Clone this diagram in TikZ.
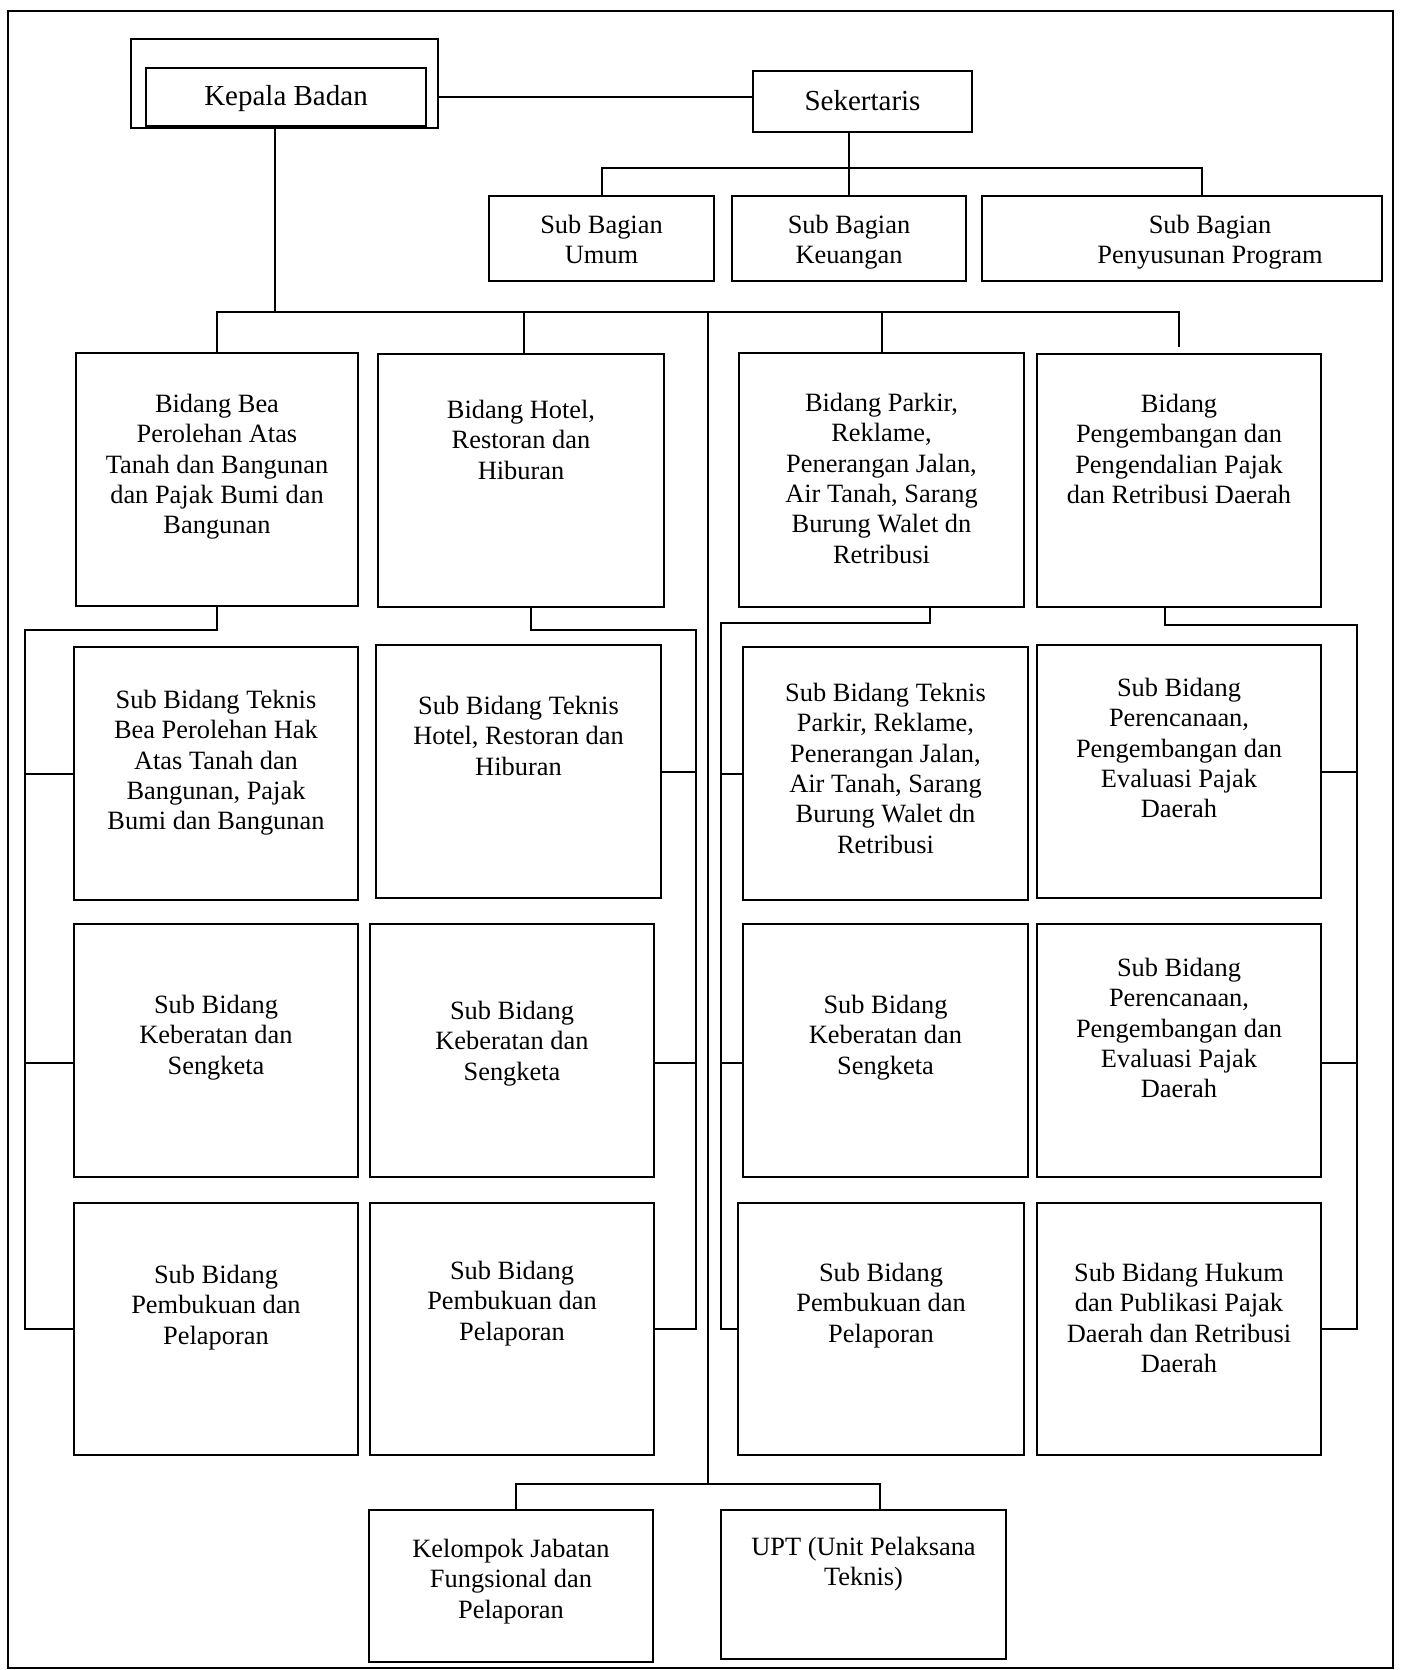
\documentclass[tikz,border=0pt]{standalone}
\usepackage{fontspec}
\setmainfont{Liberation Serif}
\usetikzlibrary{fit,positioning}

\begin{document}
\begin{tikzpicture}[x=0.5pt,y=-0.5pt,line width=1pt,
                    box/.style={draw,inner sep=0pt},
                    txt/.style={anchor=north,align=center,inner sep=0pt,font=\fontsize{13.2}{15.2}\selectfont},
                    head/.style={font=\fontsize{14.5}{16}\selectfont}]

  \useasboundingbox (0,0) rectangle (1401,1670);
  \node[box,fit={(8,11) (1393,1668)}] (0) {};

  \node[box,fit={(131,39) (438,128)}] (1) {};
  \node[box,fit={(146,68) (426,126)},label={[txt,head,yshift=-8.5pt]north:{Kepala Badan}}] (2) {};
  \node[box,fit={(753,71) (972,132)},label={[txt,head,yshift=-9.5pt]north:{Sekertaris}}] (3) {};
  \node[box,fit={(489,196) (714,281)},label={[txt,yshift=-9.5pt]north:{Sub Bagian\\Umum}}] (4) {};
  \node[box,fit={(732,196) (966,281)},label={[txt,yshift=-9.5pt]north:{Sub Bagian\\Keuangan}}] (5) {};
  \node[box,fit={(982,196) (1382,281)},label={[txt,xshift=14pt,yshift=-9.5pt]north:{Sub Bagian\\Penyusunan Program}}] (6) {};

  \node[box,fit={(76,353) (358,606)},label={[txt,yshift=-20.5pt]north:{Bidang Bea\\Perolehan Atas\\Tanah dan Bangunan\\dan Pajak Bumi dan\\Bangunan}}] (7) {};
  \node[box,fit={(378,354) (664,607)},label={[txt,yshift=-23pt]north:{Bidang Hotel,\\Restoran dan\\Hiburan}}] (8) {};
  \node[box,fit={(739,353) (1024,607)},label={[txt,yshift=-20pt]north:{Bidang Parkir,\\Reklame,\\Penerangan Jalan,\\Air Tanah, Sarang\\Burung Walet dn\\Retribusi}}] (9) {};
  \node[box,fit={(1037,354) (1321,607)},label={[txt,yshift=-20pt]north:{Bidang\\Pengembangan dan\\Pengendalian Pajak\\dan Retribusi Daerah}}] (10) {};

  \node[box,fit={(74,647) (358,900)},label={[txt,yshift=-21.5pt]north:{Sub Bidang Teknis\\Bea Perolehan Hak\\Atas Tanah dan\\Bangunan, Pajak\\Bumi dan Bangunan}}] (11) {};
  \node[box,fit={(74,924) (358,1177)},label={[txt,yshift=-35.5pt]north:{Sub Bidang\\Keberatan dan\\Sengketa}}] (12) {};
  \node[box,fit={(74,1203) (358,1455)},label={[txt,yshift=-31pt]north:{Sub Bidang\\Pembukuan dan\\Pelaporan}}] (13) {};

  \node[box,fit={(376,645) (661,898)},label={[txt,yshift=-25.5pt]north:{Sub Bidang Teknis\\Hotel, Restoran dan\\Hiburan}}] (14) {};
  \node[box,fit={(370,924) (654,1177)},label={[txt,yshift=-38.5pt]north:{Sub Bidang\\Keberatan dan\\Sengketa}}] (15) {};
  \node[box,fit={(370,1203) (654,1455)},label={[txt,yshift=-29pt]north:{Sub Bidang\\Pembukuan dan\\Pelaporan}}] (16) {};

  \node[box,fit={(743,647) (1028,900)},label={[txt,yshift=-18pt]north:{Sub Bidang Teknis\\Parkir, Reklame,\\Penerangan Jalan,\\Air Tanah, Sarang\\Burung Walet dn\\Retribusi}}] (17) {};
  \node[box,fit={(743,924) (1028,1177)},label={[txt,yshift=-35.5pt]north:{Sub Bidang\\Keberatan dan\\Sengketa}}] (18) {};
  \node[box,fit={(738,1203) (1024,1455)},label={[txt,yshift=-30pt]north:{Sub Bidang\\Pembukuan dan\\Pelaporan}}] (19) {};

  \node[box,fit={(1037,645) (1321,898)},label={[txt,yshift=-16.5pt]north:{Sub Bidang\\Perencanaan,\\Pengembangan dan\\Evaluasi Pajak\\Daerah}}] (20) {};
  \node[box,fit={(1037,924) (1321,1177)},label={[txt,yshift=-17pt]north:{Sub Bidang\\Perencanaan,\\Pengembangan dan\\Evaluasi Pajak\\Daerah}}] (21) {};
  \node[box,fit={(1037,1203) (1321,1455)},label={[txt,yshift=-30pt]north:{Sub Bidang Hukum\\dan Publikasi Pajak\\Daerah dan Retribusi\\Daerah}}] (22) {};

  \node[box,fit={(369,1510) (653,1662)},label={[txt,yshift=-14.5pt]north:{Kelompok Jabatan\\Fungsional dan\\Pelaporan}}] (23) {};
  \node[box,fit={(721,1510) (1006,1659)},label={[txt,yshift=-13.5pt]north:{UPT (Unit Pelaksana\\Teknis)}}] (24) {};

  \coordinate (s) at (849,168);
  \coordinate (k) at (275,312);
  \coordinate (t) at (708,1484);
  \coordinate (a) at (25,630);
  \coordinate (b) at (696,630);
  \coordinate (c) at (721,623);
  \coordinate (d) at (1357,625);

  \draw (1.east |- 2) -- (3.west |- 2);
  \draw (3.south -| s) -- (5.north -| s);
  \draw (4.north) |- (s) -| ([xshift=10pt]6.north);

  \draw (k |- 1.south) -- (k);
  \draw (7.north) |- (k) -| ([yshift=3pt]10.north);
  \draw ([xshift=1.5pt]8.north) -- ([xshift=1.5pt]8.north |- k);
  \draw (9.north) -- (9.north |- k);
  \draw (k -| t) -- (t);
  \draw ([xshift=2.5pt]23.north) |- (t) -| ([xshift=8pt]24.north);

  \draw (7.south) |- (a) |- (13.west);
  \draw (a |- 11.west) -- (11.west);
  \draw ([yshift=-6pt]12.west -| a) -- ([yshift=-6pt]12.west);
  \draw ([xshift=5pt]8.south) |- (b) |- (16.east);
  \draw (b |- 14.east) -- (14.east);
  \draw ([yshift=-6pt]15.east -| b) -- ([yshift=-6pt]15.east);
  \draw ([xshift=24pt]9.south) |- (c) |- (19.west);
  \draw (c |- 17.west) -- (17.west);
  \draw ([yshift=-6pt]18.west -| c) -- ([yshift=-6pt]18.west);
  \draw ([xshift=-7pt]10.south) |- (d) |- (22.east);
  \draw (d |- 20.east) -- (20.east);
  \draw ([yshift=-6pt]21.east -| d) -- ([yshift=-6pt]21.east);
\end{tikzpicture}
\end{document}
